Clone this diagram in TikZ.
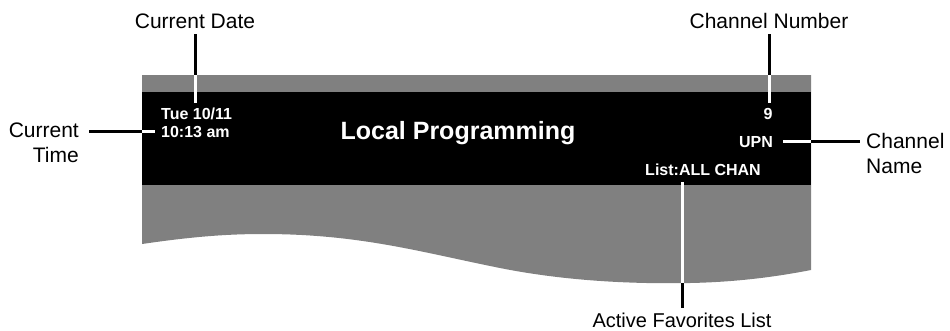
\documentclass[tikz,border=0pt]{standalone}
\usepackage{fontspec}
\setmainfont{Liberation Sans}
\usetikzlibrary{positioning}

\begin{document}
\begin{tikzpicture}[x=1pt,y=-1pt,
  lbl/.style={font=\fontsize{21}{25}\selectfont,inner sep=0pt},
  osd/.style={font=\fontsize{16}{18}\selectfont\bfseries,text=white,inner sep=0pt},
  ttl/.style={font=\fontsize{25}{30}\selectfont\bfseries,text=white,inner sep=0pt},
  blk/.style={line width=3pt,black},
  wht/.style={line width=3pt,white}
]
  \useasboundingbox (0,0) rectangle (950,330);
  % screen
  \fill[gray] (142,75) -- (811,75) -- (811,270)
    .. controls (780,276) and (740,282) .. (690,283)
    .. controls (640,284) and (570,282) .. (500,268)
    .. controls (420,252) and (360,234) .. (263,234)
    .. controls (225,234) and (190,237) .. (142,244) -- cycle;
  \node[fill=black,minimum width=669pt,minimum height=93pt,inner sep=0pt,anchor=north west] (bar) at (142,92) {};
  \coordinate (gtop) at (142,75);
  \coordinate (gbot) at (682,283);

  % screen texts
  \node[osd,anchor=base west] (date) at (161,119) {Tue 10/11};
  \node[osd,anchor=base west] (time) at (161,137) {10:13 am};
  \node[ttl,anchor=base] (title) at (458,139) {Local Programming};
  \node[osd,anchor=base] (chnum) at (768,119) {9};
  \node[osd,anchor=base east] (chname) at (773,147) {UPN};
  \node[osd,anchor=base] (list) at (703,175) {List:ALL CHAN};

  % labels
  \node[lbl,anchor=base] (dateL) at (195,28) {Current Date};
  \node[lbl,anchor=base] (numL) at (769,28) {Channel Number};
  \node[lbl,align=right,anchor=east] (timeL) at (79,143) {Current\\Time};
  \node[lbl,align=left,anchor=west] (nameL) at (866,153) {Channel\\Name};
  \node[lbl,font=\fontsize{20}{25}\selectfont,anchor=base] (favL) at (682,327) {Active Favorites List};

  % connectors
  \draw[blk,shorten <=6pt] (dateL.south) -- (dateL.south |- gtop);
  \draw[wht,shorten >=4pt] (dateL.south |- gtop) -- (dateL.south |- date.north);
  \draw[blk,shorten <=6pt] (numL.south) -- (numL.south |- gtop);
  \draw[wht,shorten >=5pt] (numL.south |- gtop) -- (numL.south |- chnum.north);
  \draw[blk,shorten <=10pt] (timeL.east |- time.west) -- (bar.west |- time.west);
  \draw[wht,shorten >=6pt] (bar.west |- time.west) -- (time.west);
  \draw[wht,shorten <=10pt] (chname.east) -- (bar.east |- chname.east);
  \draw[blk,shorten >=6pt] (bar.east |- chname.east) -- (nameL.west |- chname.east);
  \draw[wht,shorten <=7pt] (gbot |- list.south) -- (gbot);
  \draw[blk,shorten >=4pt] (gbot) -- (favL.north);
\end{tikzpicture}
\end{document}
